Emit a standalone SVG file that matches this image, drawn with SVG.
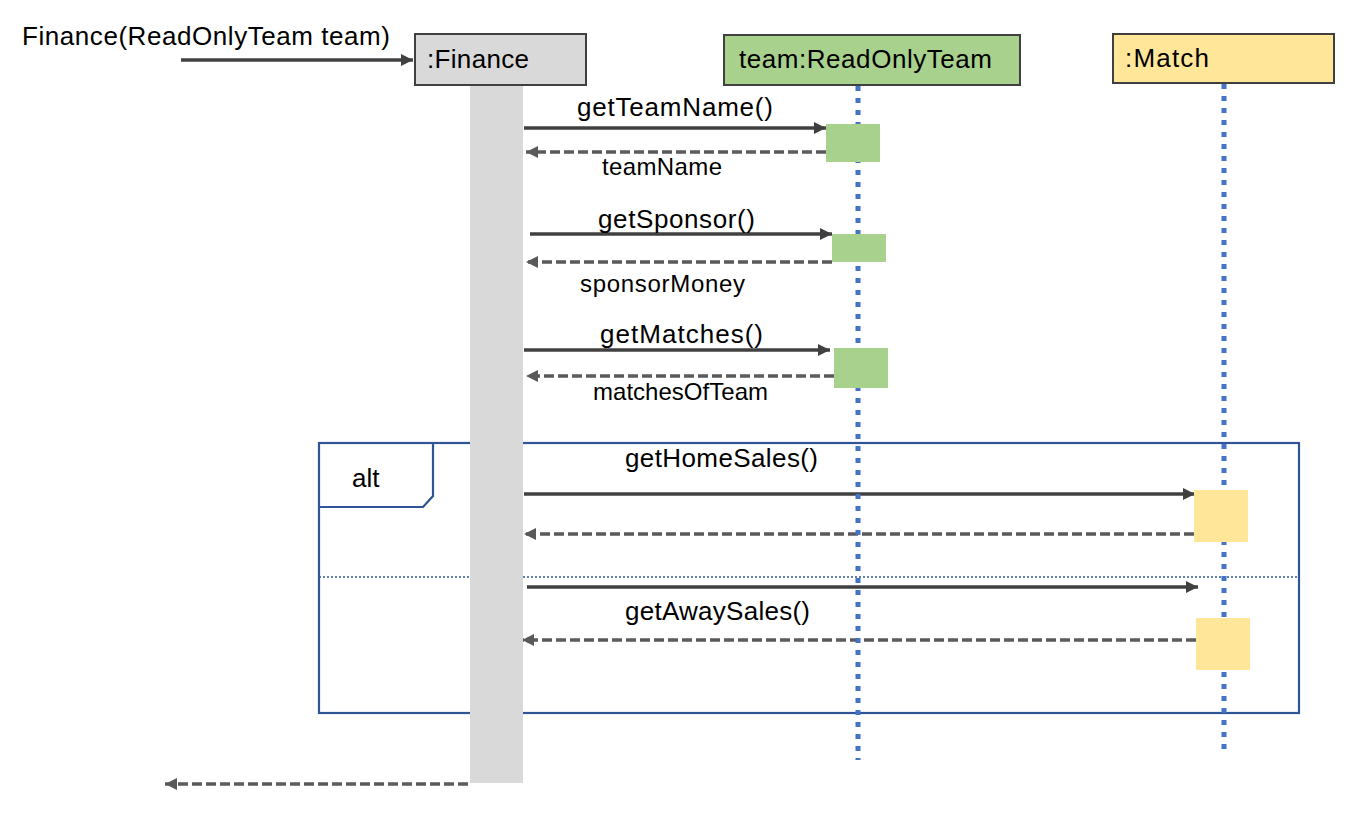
<svg xmlns="http://www.w3.org/2000/svg" width="1354" height="818" viewBox="0 0 1354 818">
<style>
text{font-family:"Liberation Sans",Arial,sans-serif;fill:#000}
.t26{font-size:26px}
.t24{font-size:24px}
.hdr{stroke:#404040;stroke-width:2}
.call{stroke:#404040;stroke-width:3.5;fill:none}
.ret{stroke:#595959;stroke-width:3.5;fill:none;stroke-dasharray:10 4}
.life{stroke:#4472c4;stroke-width:5;stroke-dasharray:5 7;fill:none}
.frame{stroke:#2f5597;stroke-width:2.2;fill:none}
</style>
<defs>
<marker id="ah" markerUnits="userSpaceOnUse" markerWidth="14" markerHeight="14" refX="12" refY="6" orient="auto">
<path d="M0,0 L12,6 L0,12 Z" fill="#404040"/>
</marker>
<marker id="ahr" markerUnits="userSpaceOnUse" markerWidth="14" markerHeight="14" refX="12" refY="6" orient="auto">
<path d="M0,0 L12,6 L0,12 Z" fill="#595959"/>
</marker>
</defs>
<rect width="1354" height="818" fill="#ffffff"/>

<g id="alt-frame">
<rect class="frame" x="319" y="443" width="980" height="270"/>
<path class="frame" d="M319,443 H433 V496 L423,507 H319"/>
<line x1="319" y1="577" x2="1299" y2="577" stroke="#2f5597" stroke-width="1.6" stroke-dasharray="2 2"/>
<text class="t26" x="352" y="487">alt</text>
</g>

<g id="connectors">
<line class="call" x1="181" y1="60" x2="413" y2="60" marker-end="url(#ah)"/>
<text class="t26" x="22" y="45" textLength="368">Finance(ReadOnlyTeam team)</text>

<line class="call" x1="524" y1="128" x2="826" y2="128" marker-end="url(#ah)"/>
<text class="t26" x="577" y="116" textLength="196">getTeamName()</text>
<line class="ret" x1="826" y1="152" x2="526" y2="152" marker-end="url(#ahr)"/>
<text class="t24" x="602" y="175" textLength="120">teamName</text>

<line class="call" x1="530" y1="234" x2="832" y2="234" marker-end="url(#ah)"/>
<text class="t26" x="598" y="228" textLength="157">getSponsor()</text>
<line class="ret" x1="832" y1="262" x2="526" y2="262" marker-end="url(#ahr)"/>
<text class="t24" x="580" y="292" textLength="165">sponsorMoney</text>

<line class="call" x1="524" y1="350" x2="830" y2="350" marker-end="url(#ah)"/>
<text class="t26" x="600" y="343" textLength="163">getMatches()</text>
<line class="ret" x1="834" y1="376" x2="526" y2="376" marker-end="url(#ahr)"/>
<text class="t24" x="593" y="400" textLength="175">matchesOfTeam</text>

<line class="call" x1="524" y1="494" x2="1195" y2="494" marker-end="url(#ah)"/>
<text class="t26" x="625" y="467" textLength="193">getHomeSales()</text>
<line class="ret" x1="1194" y1="534" x2="524" y2="534" marker-end="url(#ahr)"/>

<line class="call" x1="527" y1="587" x2="1198" y2="587" marker-end="url(#ah)"/>
<text class="t26" x="625" y="620" textLength="185">getAwaySales()</text>
<line class="ret" x1="1196" y1="640" x2="522" y2="640" marker-end="url(#ahr)"/>

<line class="ret" x1="468" y1="784" x2="165" y2="784" marker-end="url(#ahr)"/>
</g>

<g id="finance">
<rect x="470" y="85" width="53" height="698" fill="#d9d9d9"/>
<rect class="hdr" x="415" y="34" width="171" height="51" fill="#d9d9d9"/>
<text class="t26" x="427" y="68" textLength="102">:Finance</text>
</g>

<g id="team">
<line class="life" x1="858" y1="86" x2="858" y2="760"/>
<rect x="826" y="124" width="54" height="38" fill="#a9d18e"/>
<rect x="832" y="234" width="54" height="28" fill="#a9d18e"/>
<rect x="834" y="348" width="54" height="40" fill="#a9d18e"/>
<rect class="hdr" x="724" y="35" width="296" height="50" fill="#a9d18e"/>
<text class="t26" x="739" y="68" textLength="253">team:ReadOnlyTeam</text>
</g>

<g id="match">
<line class="life" x1="1224" y1="84" x2="1224" y2="752"/>
<rect x="1194" y="490" width="54" height="52" fill="#ffe699"/>
<rect x="1196" y="618" width="54" height="52" fill="#ffe699"/>
<rect class="hdr" x="1113" y="34" width="221" height="49" fill="#ffe699"/>
<text class="t26" x="1125" y="67" textLength="84">:Match</text>
</g>
</svg>
